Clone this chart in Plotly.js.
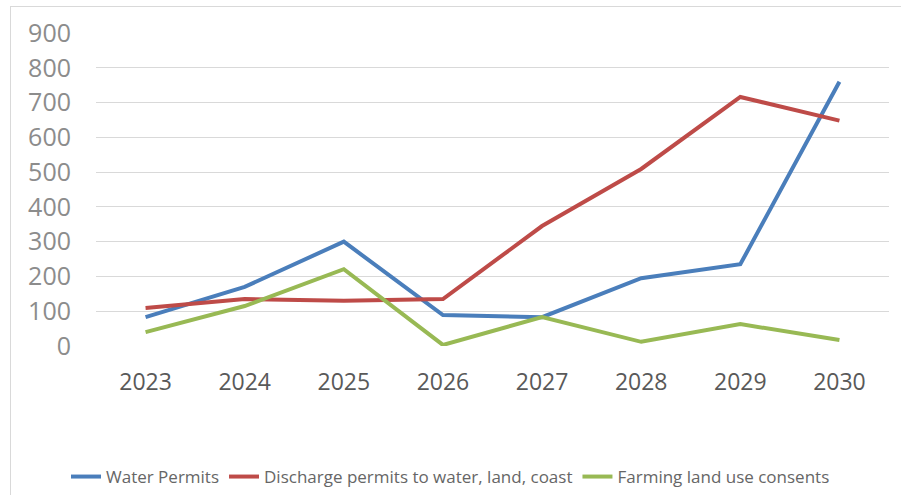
<!DOCTYPE html>
<html>
<head>
<meta charset="utf-8">
<script src="https://cdn.plot.ly/plotly-3.0.1.min.js"></script>
<style>
  html, body { margin: 0; padding: 0; background: #fff; }
  #wrap { position: relative; width: 901px; height: 495px; overflow: hidden; }
  #chart { position: absolute; left: 0; top: 0; width: 901px; height: 495px; }
  #frame { position: absolute; left: 10px; top: 6px; width: 900px; height: 500px; border: 1px solid #d9d9d9; pointer-events: none; }
</style>
</head>
<body>
<div id="wrap">
  <div id="chart"></div>
  <div id="frame"></div>
</div>
<script>
const years = ['2023', '2024', '2025', '2026', '2027', '2028', '2029', '2030'];
const waterPermits = [83, 170, 300, 89, 83, 195, 235, 760];
const dischargePermits = [109, 135, 130, 135, 345, 509, 716, 648];
const farmingConsents = [40, 115, 221, 3, 83, 12, 63, 17];
const seriesNames = ['Water Permits', 'Discharge permits to water, land, coast', 'Farming land use consents'];
const yTicks = [0, 100, 200, 300, 400, 500, 600, 700, 800, 900];

const colors = ['#4a7ebb', '#be4b48', '#98b954'];
const allSeries = [waterPermits, dischargePermits, farmingConsents];

const traces = allSeries.map((vals, i) => ({
  type: 'scatter',
  mode: 'lines',
  x: years,
  y: vals,
  name: seriesNames[i],
  line: { color: colors[i], width: 4 }
}));

const layout = {
  width: 901,
  height: 495,
  margin: { l: 96, r: 12, t: 33, b: 149, autoexpand: false },
  paper_bgcolor: '#ffffff',
  plot_bgcolor: '#ffffff',
  font: { family: '"Open Sans", "DejaVu Sans", sans-serif', color: '#595959' },
  showlegend: true,
  legend: {
    orientation: 'h',
    x: 0.5, xanchor: 'center', xref: 'container',
    y: 1 - 477 / 495, yanchor: 'middle', yref: 'container',
    font: { size: 17, color: '#666666' },
    itemwidth: 30,
    traceorder: 'normal'
  },
  xaxis: {
    type: 'category',
    categoryorder: 'array',
    categoryarray: years,
    range: [-0.5, 7.5],
    showgrid: false,
    zeroline: false,
    showline: false,
    automargin: false,
    ticks: '',
    ticklabelstandoff: 20,
    tickfont: { size: 23, color: '#595959' }
  },
  yaxis: {
    range: [0, 900],
    tickvals: yTicks,
    ticktext: yTicks.map(String),
    showgrid: true,
    gridcolor: '#d9d9d9',
    gridwidth: 1,
    zeroline: false,
    showline: false,
    automargin: false,
    ticks: '',
    ticklabelstandoff: 24,
    tickfont: { size: 25, color: '#8c8c8c' }
  }
};

Plotly.newPlot('chart', traces, layout, { displayModeBar: false, staticPlot: true });
</script>
</body>
</html>
